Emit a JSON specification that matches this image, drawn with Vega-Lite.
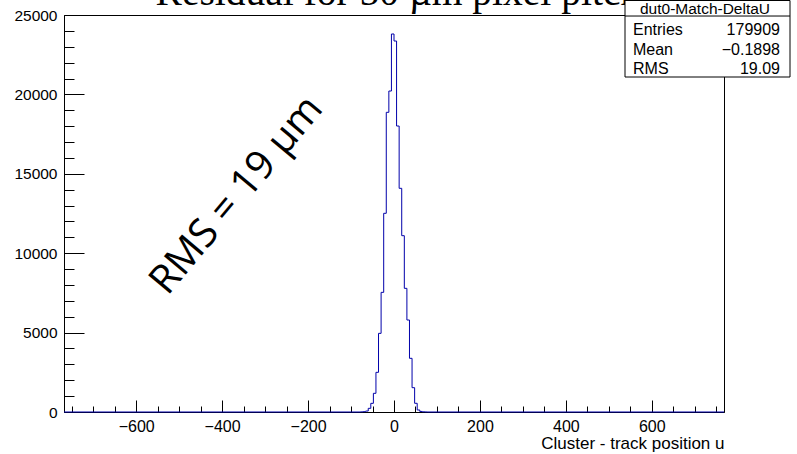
{
  "$schema": "https://vega.github.io/schema/vega-lite/v6.json",
  "width": 660,
  "height": 397,
  "autosize": {"type": "none"},
  "padding": {"left": 64, "top": 15, "right": 73, "bottom": 42},
  "background": "white",
  "view": {"stroke": "black", "strokeWidth": 1},
  "config": {"font": "Liberation Sans"},
  "resolve": {"axis": {"x": "independent", "y": "independent"}},
  "layer": [
    {
      "data": {"values": [
        {"u": -768, "n": 0},
        {"u": -78, "n": 8},
        {"u": -72, "n": 20},
        {"u": -66, "n": 60},
        {"u": -60, "n": 231},
        {"u": -54, "n": 546},
        {"u": -48, "n": 1176},
        {"u": -42, "n": 2498},
        {"u": -36, "n": 4953},
        {"u": -30, "n": 7535},
        {"u": -24, "n": 12512},
        {"u": -18, "n": 18872},
        {"u": -12, "n": 20213},
        {"u": -6, "n": 23803},
        {"u": 0, "n": 23362},
        {"u": 6, "n": 18009},
        {"u": 12, "n": 14086},
        {"u": 18, "n": 11103},
        {"u": 24, "n": 7787},
        {"u": 30, "n": 5793},
        {"u": 36, "n": 3380},
        {"u": 42, "n": 1532},
        {"u": 48, "n": 548},
        {"u": 54, "n": 126},
        {"u": 60, "n": 35},
        {"u": 66, "n": 12},
        {"u": 72, "n": 4},
        {"u": 78, "n": 0},
        {"u": 768, "n": 0}
      ]},
      "mark": {"type": "line", "interpolate": "step-after", "color": "#0000aa", "strokeWidth": 1},
      "encoding": {
        "x": {
          "field": "u", "type": "quantitative",
          "scale": {"domain": [-768, 768], "nice": false, "zero": false},
          "axis": {
            "orient": "bottom",
            "values": [-600, -400, -200, 0, 200, 400, 600],
            "format": "d",
            "tickSize": -12, "tickColor": "black", "tickWidth": 1,
            "domainColor": "black", "domainWidth": 1,
            "grid": false,
            "labelFont": "Liberation Sans", "labelFontSize": 16, "labelColor": "black",
            "labelPadding": 18, "labelOverlap": false, "labelFlush": false, "labelBound": false,
            "title": "Cluster - track position u",
            "titleAnchor": "end", "titleFont": "Liberation Sans", "titleFontSize": 17,
            "titleFontWeight": "normal", "titleColor": "black", "titlePadding": 1
          }
        },
        "y": {
          "field": "n", "type": "quantitative",
          "scale": {"domain": [0, 25000], "nice": false},
          "axis": {
            "orient": "left",
            "values": [0, 5000, 10000, 15000, 20000, 25000],
            "format": "d",
            "tickSize": -20, "tickColor": "black", "tickWidth": 1,
            "domainColor": "black", "domainWidth": 1,
            "grid": false,
            "labelFont": "Liberation Sans", "labelFontSize": 15.5, "labelColor": "black",
            "labelPadding": 27, "labelOverlap": false, "labelFlush": false, "labelBound": false,
            "title": null
          }
        }
      }
    },
    {
      "data": {"values": [{"label": "RMS = 19 µm"}]},
      "mark": {"type": "text", "font": "Open Sans", "fontSize": 40, "angle": 310, "align": "center", "baseline": "middle", "color": "black"},
      "encoding": {
        "x": {
          "datum": -366, "type": "quantitative",
          "axis": {
            "orient": "bottom",
            "values": [-750, -700, -650, -600, -550, -500, -450, -400, -350, -300, -250, -200, -150, -100, -50, 0, 50, 100, 150, 200, 250, 300, 350, 400, 450, 500, 550, 600, 650, 700, 750],
            "tickSize": -6, "tickColor": "black", "tickWidth": 1,
            "labels": false, "domain": false, "grid": false, "title": null
          }
        },
        "y": {
          "datum": 13650, "type": "quantitative",
          "axis": {
            "orient": "left",
            "values": [1000, 2000, 3000, 4000, 6000, 7000, 8000, 9000, 11000, 12000, 13000, 14000, 16000, 17000, 18000, 19000, 21000, 22000, 23000, 24000],
            "tickSize": -10, "tickColor": "black", "tickWidth": 1,
            "labels": false, "domain": false, "grid": false, "title": null
          }
        },
        "text": {"field": "label"}
      }
    },
    {
      "data": {"values": [{"title": "Residual for 50 µm pixel pitch"}]},
      "mark": {"type": "text", "font": "Liberation Serif", "fontSize": 39.5, "align": "center", "baseline": "alphabetic", "color": "black"},
      "encoding": {
        "x": {"datum": 9, "type": "quantitative", "axis": null},
        "y": {"datum": 25600, "type": "quantitative", "axis": null},
        "text": {"field": "title"}
      }
    },
    {
      "data": {"values": [{"name": "dut0-Match-DeltaU"}]},
      "mark": {"type": "rect", "fill": "white", "stroke": "black", "strokeWidth": 1},
      "encoding": {
        "x": {"datum": 537.6, "type": "quantitative", "axis": null},
        "x2": {"datum": 921.6},
        "y": {"datum": 25913, "type": "quantitative", "axis": null},
        "y2": {"datum": 21095}
      }
    },
    {
      "data": {"values": [{"name": "dut0-Match-DeltaU"}]},
      "mark": {"type": "rule", "color": "black", "strokeWidth": 1},
      "encoding": {
        "x": {"datum": 537.6, "type": "quantitative", "axis": null},
        "x2": {"datum": 921.6},
        "y": {"datum": 24936, "type": "quantitative", "axis": null}
      }
    },
    {
      "data": {"values": [{"name": "dut0-Match-DeltaU"}]},
      "mark": {"type": "text", "align": "center", "baseline": "alphabetic", "font": "Liberation Sans", "fontSize": 15.5, "color": "black"},
      "encoding": {
        "x": {"datum": 723.8, "type": "quantitative", "axis": null},
        "y": {"datum": 25094, "type": "quantitative", "axis": null},
        "text": {"field": "name"}
      }
    },
    {
      "data": {"values": [{"stat": "Entries", "val": "179909"}]},
      "encoding": {"y": {"datum": 23740, "type": "quantitative", "axis": null}},
      "layer": [
        {
          "mark": {"type": "text", "align": "left", "baseline": "alphabetic", "font": "Liberation Sans", "fontSize": 16, "color": "black"},
          "encoding": {"x": {"datum": 556.2, "type": "quantitative", "axis": null}, "text": {"field": "stat"}}
        },
        {
          "mark": {"type": "text", "align": "right", "baseline": "alphabetic", "font": "Liberation Sans", "fontSize": 16, "color": "black"},
          "encoding": {"x": {"datum": 898.3, "type": "quantitative", "axis": null}, "text": {"field": "val"}}
        }
      ]
    },
    {
      "data": {"values": [{"stat": "Mean", "val": "−0.1898"}]},
      "encoding": {"y": {"datum": 22512, "type": "quantitative", "axis": null}},
      "layer": [
        {
          "mark": {"type": "text", "align": "left", "baseline": "alphabetic", "font": "Liberation Sans", "fontSize": 16, "color": "black"},
          "encoding": {"x": {"datum": 556.2, "type": "quantitative", "axis": null}, "text": {"field": "stat"}}
        },
        {
          "mark": {"type": "text", "align": "right", "baseline": "alphabetic", "font": "Liberation Sans", "fontSize": 16, "color": "black"},
          "encoding": {"x": {"datum": 898.3, "type": "quantitative", "axis": null}, "text": {"field": "val"}}
        }
      ]
    },
    {
      "data": {"values": [{"stat": "RMS", "val": "19.09"}]},
      "encoding": {"y": {"datum": 21284, "type": "quantitative", "axis": null}},
      "layer": [
        {
          "mark": {"type": "text", "align": "left", "baseline": "alphabetic", "font": "Liberation Sans", "fontSize": 16, "color": "black"},
          "encoding": {"x": {"datum": 556.2, "type": "quantitative", "axis": null}, "text": {"field": "stat"}}
        },
        {
          "mark": {"type": "text", "align": "right", "baseline": "alphabetic", "font": "Liberation Sans", "fontSize": 16, "color": "black"},
          "encoding": {"x": {"datum": 898.3, "type": "quantitative", "axis": null}, "text": {"field": "val"}}
        }
      ]
    }
  ]
}
